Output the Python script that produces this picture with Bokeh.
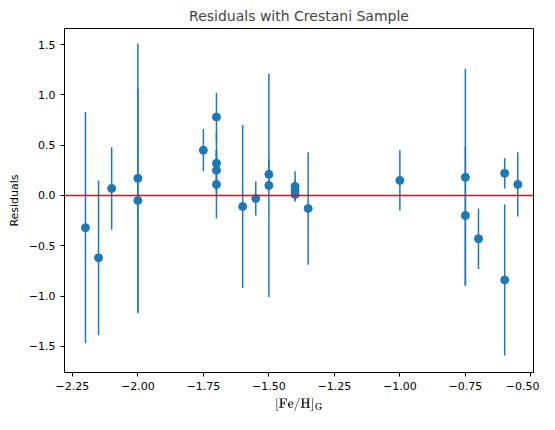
from bokeh.plotting import figure
from bokeh.models import Range1d, FixedTicker, Span
from bokeh.embed import file_html
from bokeh.resources import INLINE

feh = [-2.2, -2.15, -2.1, -2.0, -2.0, -1.75, -1.7, -1.7, -1.7, -1.7, -1.6, -1.55,
       -1.5, -1.5, -1.4, -1.4, -1.4, -1.35, -1.0, -0.75, -0.75, -0.7, -0.6, -0.6, -0.55]
resid = [-0.32, -0.62, 0.07, 0.17, -0.05, 0.45, 0.78, 0.32, 0.25, 0.11, -0.11, -0.03,
         0.21, 0.10, 0.09, 0.05, 0.01, -0.13, 0.15, 0.18, -0.20, -0.43, 0.22, -0.84, 0.11]
err = [1.15, 0.77, 0.41, 1.34, 1.11, 0.21, 0.24, 0.30, 0.20, 0.34, 0.81, 0.17,
       0.15, 1.11, 0.15, 0.10, 0.03, 0.56, 0.30, 1.08, 0.69, 0.30, 0.15, 0.75, 0.32]

C = "#1f77b4"
p = figure(width=539, height=414, output_backend="svg", toolbar_location=None,
           title="Residuals with Crestani Sample",
           x_range=Range1d(-2.28, -0.49), y_range=Range1d(-1.76, 1.66))
p.title.align = "center"
p.title.text_font = "DejaVu Sans"
p.title.text_font_style = "normal"
p.title.text_font_size = "14px"
p.grid.visible = False
p.outline_line_color = "black"
p.min_border_right = 6
p.min_border_left = 64
p.min_border_bottom = 34

lo = [r - e for r, e in zip(resid, err)]
hi = [r + e for r, e in zip(resid, err)]
p.segment(feh, lo, feh, hi, line_color=C, line_width=1.5)
p.add_layout(Span(location=0, dimension="width", line_color="red", line_width=1.5))
p.scatter(feh, resid, size=8, color=C)

p.xaxis.ticker = FixedTicker(ticks=[-2.25, -2.0, -1.75, -1.5, -1.25, -1.0, -0.75, -0.5])
p.yaxis.ticker = FixedTicker(ticks=[-1.5, -1.0, -0.5, 0.0, 0.5, 1.0, 1.5])
p.xaxis.major_label_overrides = {-2.25: "−2.25", -2.0: "−2.00", -1.75: "−1.75", -1.5: "−1.50",
                                 -1.25: "−1.25", -1.0: "−1.00", -0.75: "−0.75", -0.5: "−0.50"}
p.yaxis.major_label_overrides = {-1.5: "−1.5", -1.0: "−1.0", -0.5: "−0.5", 0.0: "0.0",
                                 0.5: "0.5", 1.0: "1.0", 1.5: "1.5"}
p.xaxis.axis_label = r"$$[\mathrm{Fe/H}]_\mathrm{G}$$"
p.yaxis.axis_label = "Residuals"
for ax in (p.xaxis, p.yaxis):
    ax.minor_tick_line_color = None
    ax.major_tick_in = 0
    ax.major_tick_out = 4
    ax.major_label_text_font = "DejaVu Sans"
    ax.major_label_text_font_size = "11px"
    ax.axis_label_text_font = "DejaVu Sans"
    ax.axis_label_text_font_style = "normal"
    ax.axis_label_text_font_size = "11px"
    ax.axis_label_text_color = "black"
    ax.axis_line_color = "black"
    ax.major_label_text_color = "black"

open("out.html", "w").write(file_html(p, INLINE))
